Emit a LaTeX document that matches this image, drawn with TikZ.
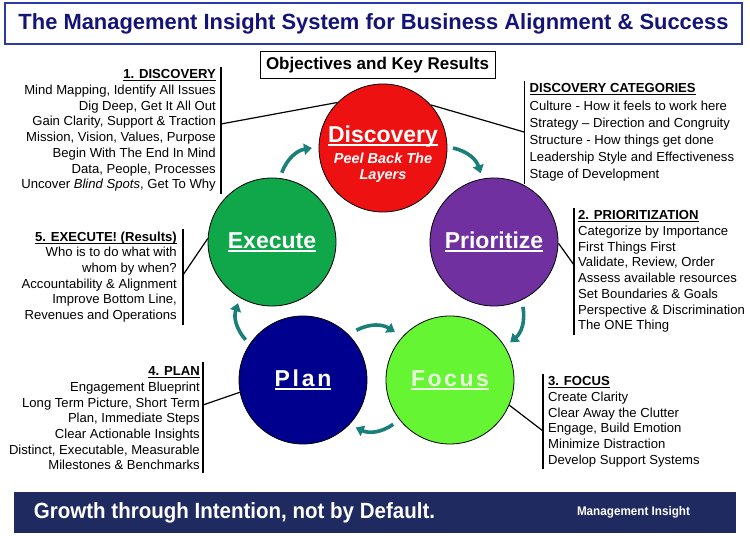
\documentclass[tikz,border=0pt]{standalone}
\usepackage{fontspec}
\setmainfont{Liberation Sans}
\usepackage{graphicx}
\usetikzlibrary{arrows.meta,positioning,calc}
\definecolor{TitleNavy}{HTML}{141478}
\definecolor{TitleBlue}{HTML}{2A3AA8}
\definecolor{CycleTeal}{HTML}{1B7F79}
\definecolor{DiscRed}{HTML}{EE1111}
\definecolor{ExecGreen}{HTML}{10A64A}
\definecolor{PrioPurple}{HTML}{7030A0}
\definecolor{PlanBlue}{HTML}{00008F}
\definecolor{FocusLime}{HTML}{66F533}
\definecolor{FocusText}{HTML}{EAFFDD}
\definecolor{BannerNavy}{HTML}{1F2A60}
\newcommand{\hdul}[2][1.1pt]{\setbox0\hbox{#2}\rlap{\rule[\dimexpr-1.5pt-#1\relax]{\wd0}{#1}}\box0}
\newcommand{\fitw}[2]{\resizebox{#1}{\height}{#2}}

\begin{document}
\begin{tikzpicture}[
	x=1pt, y=1pt,
	phase/.style={circle, draw=black, line width=0.8pt, minimum size=128pt, inner sep=0pt},
	phasetxt/.style={text=white, font=\fontsize{23}{26}\selectfont\bfseries, align=center},
	notes/.style={font=\fontsize{13.1}{15.7}\selectfont, inner sep=0pt},
	bar/.style={line width=1.6pt},
	leader/.style={line width=1.2pt},
	cyc/.style={-{Triangle[length=8pt,width=11pt]}, line width=3.6pt, CycleTeal, bend left=30}
]
\useasboundingbox (0,0) rectangle (750,537);

\node[draw=TitleBlue, line width=1.5pt, minimum width=737pt, minimum height=41pt, inner sep=0pt, text=TitleNavy] (title) at (373.5,513.5)
	{\fitw{710pt}{\fontsize{22}{24}\selectfont\bfseries The Management Insight System for Business Alignment \& Success}};
\node[draw, line width=1pt, minimum width=235pt, minimum height=27pt, inner sep=0pt, font=\fontsize{17}{20}\selectfont\bfseries] (okr) at (377.5,471.5) {Objectives and Key Results};

\node[notes, anchor=north east, align=right] (discnotes) at (216,467.5) {\textbf{\hdul{1. DISCOVERY}}\\Mind Mapping, Identify All Issues\\Dig Deep, Get It All Out\\Gain Clarity, Support \& Traction\\Mission, Vision, Values, Purpose\\Begin With The End In Mind\\Data, People, Processes\\Uncover \textit{Blind Spots}, Get To Why};
\node[notes, anchor=north west, align=left, font=\fontsize{13.1}{17.2}\selectfont] (catnotes) at (529.5,453.5) {\textbf{\hdul{DISCOVERY CATEGORIES}}\\Culture - How it feels to work here\\Strategy -- Direction and Congruity\\Structure - How things get done\\Leadership Style and Effectiveness\\Stage of Development};
\node[notes, anchor=north west, align=left] (prionotes) at (578,326.5) {\textbf{\hdul{2. PRIORITIZATION}}\\Categorize by Importance\\First Things First\\Validate, Review, Order\\Assess available resources\\Set Boundaries \& Goals\\Perspective \& Discrimination\\The ONE Thing};
\node[notes, anchor=north east, align=right] (execnotes) at (177,305.5) {\textbf{\hdul{5. EXECUTE! (Results)}}\\Who is to do what with\\whom by when?\\Accountability \& Alignment\\Improve Bottom Line,\\Revenues and Operations};
\node[notes, anchor=north east, align=right] (plannotes) at (200,170.5) {\textbf{\hdul{4. PLAN}}\\Engagement Blueprint\\Long Term Picture, Short Term\\Plan, Immediate Steps\\Clear Actionable Insights\\Distinct, Executable, Measurable\\Milestones \& Benchmarks};
\node[notes, anchor=north west, align=left] (focusnotes) at (548,160.5) {\textbf{\hdul{3. FOCUS}}\\Create Clarity\\Clear Away the Clutter\\Engage, Build Emotion\\Minimize Distraction\\Develop Support Systems};

\draw[bar] ([shift={(5,2)}]discnotes.north east) -- ([shift={(5,-2)}]discnotes.south east);
\draw[bar] ([shift={(-5,2)}]catnotes.north west) -- ([shift={(-5,-2)}]catnotes.south west);
\draw[bar] ([shift={(-4,2)}]prionotes.north west) -- ([shift={(-4,-2)}]prionotes.south west);
\draw[bar] ([shift={(6,2)}]execnotes.north east) -- ([shift={(6,-2)}]execnotes.south east);
\draw[bar] ([shift={(3,4)}]plannotes.north east) -- ([shift={(3,-3)}]plannotes.south east);
\draw[bar] ([shift={(-5,2)}]focusnotes.north west) -- ([shift={(-5,-2)}]focusnotes.south west);

\node[phase, fill=DiscRed] (discovery) at (383,389) {};
\node[phase, fill=ExecGreen, phasetxt] (execute) at (272,295) {\hdul[2pt]{Execute}};
\node[phase, fill=PrioPurple, phasetxt] (prioritize) at (494,295) {\hdul[2pt]{Prioritize}};
\node[phase, fill=PlanBlue, phasetxt] (plan) at (303,157) {\hdul[2pt]{\addfontfeature{LetterSpace=12}Plan}};
\node[phase, fill=FocusLime, phasetxt, text=FocusText] (focus) at (450,157) {\hdul[2pt]{\addfontfeature{LetterSpace=11}Focus}};
\node[phasetxt, font=\fontsize{14.5}{16.5}\selectfont\bfseries\itshape] (disctxt) at ([yshift=-6pt]discovery.center)
	{{\fontsize{23}{26}\selectfont\upshape\hdul[2pt]{Discovery}}\\[4.5pt]Peel Back The\\Layers};

\coordinate (dl) at (221,413);
\coordinate (dr) at (524,405);
\coordinate (el) at (183,262);
\coordinate (pr) at (574,272);
\coordinate (pl) at (203,132);
\coordinate (fr) at (543,106);
\draw[leader] (discovery.135) -- (dl);
\draw[leader] (discovery.42) -- (dr);
\draw[leader] (execute.177) -- (el);
\draw[leader] (prioritize.-1) -- (pr);
\draw[leader] (plan.191) -- (pl);
\draw[leader] (focus.-23) -- (fr);

\draw[cyc] ($(execute.center)+(82:70)$) to ($(discovery.center)+(180:71)$);
\draw[cyc] ($(discovery.center)+(0:70)$) to ($(prioritize.center)+(101:70)$);
\draw[cyc] ($(prioritize.center)+(-66:71)$) to ($(focus.center)+(32:71)$);
\draw[cyc] ($(focus.center)+(218:72)$) to ($(plan.center)+(-42:71)$);
\draw[cyc] ($(plan.center)+(145:70)$) to ($(execute.center)+(241:70)$);
\draw[cyc] ($(plan.center)+(43:73)$) to ($(focus.center)+(139:73)$);

\node[fill=BannerNavy, minimum width=722pt, minimum height=41pt, inner sep=0pt] (banner) at (375,24.5) {};
\node[text=white, anchor=west, inner sep=0pt] (motto) at ([xshift=20pt]banner.west)
	{\fitw{401pt}{\fontsize{22}{24}\selectfont\bfseries Growth through Intention, not by Default.}};
\node[text=white, inner sep=0pt] (brand) at (633.5,24.5)
	{\fitw{113pt}{\fontsize{12.5}{14}\selectfont\bfseries Management Insight}};
\end{tikzpicture}
\end{document}
